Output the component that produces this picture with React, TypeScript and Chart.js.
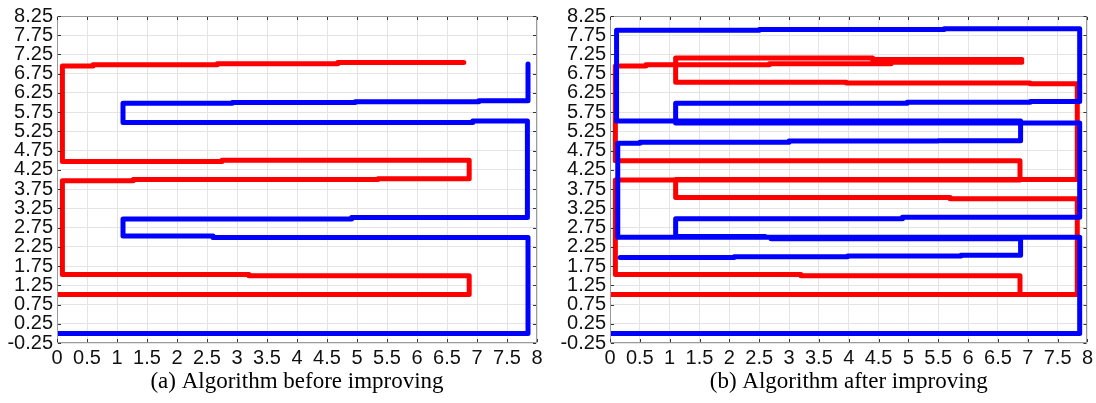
import React, { useEffect, useRef } from "react";
import { Chart, registerables } from "chart.js";

Chart.register(...registerables);

// ---------- tick labels & captions ----------
const xTickLabels = ["0", "0.5", "1", "1.5", "2", "2.5", "3", "3.5", "4", "4.5", "5", "5.5", "6", "6.5", "7", "7.5", "8"];
const yTickLabels = ["-0.25", "0.25", "0.75", "1.25", "1.75", "2.25", "2.75", "3.25", "3.75", "4.25", "4.75", "5.25", "5.75", "6.25", "6.75", "7.25", "7.75", "8.25"];
const captions = ["(a) Algorithm before improving", "(b) Algorithm after improving"];

// ---------- (a) before improving ----------
const aRedX = [0, 6.87, 6.87, 3.2, 3.2, 0.09, 0.09, 1.27, 1.27, 5.35, 5.35, 6.87, 6.87, 2.75, 2.75, 0.09, 0.09, 0.6, 0.6, 2.67, 2.67, 4.68, 4.68, 6.78];
const aRedY = [1.01, 1.01, 1.5, 1.5, 1.53, 1.53, 3.97, 3.97, 4.0, 4.0, 4.02, 4.02, 4.5, 4.5, 4.47, 4.47, 6.95, 6.95, 6.98, 6.98, 7.01, 7.01, 7.04, 7.04];

const aBlueX = [0, 7.85, 7.85, 2.6, 2.6, 1.1, 1.1, 4.91, 4.91, 7.84, 7.84, 6.93, 6.93, 1.1, 1.1, 2.92, 2.92, 4.97, 4.97, 7.03, 7.03, 7.85, 7.85];
const aBlueY = [0, 0, 2.49, 2.49, 2.53, 2.53, 2.97, 2.97, 3.01, 3.01, 5.52, 5.52, 5.48, 5.48, 5.98, 5.98, 6.0, 6.0, 6.02, 6.02, 6.05, 6.05, 7.0];

// ---------- (b) after improving (null = break) ----------
const bRedX = [0, 7.83, 7.83, 5.7, 5.7, 1.1, 1.1, 7.83, 7.83, 7.04, 7.04, 3.96, 3.96, 1.1, 1.1, 4.4, 4.4, 6.9, null,
  6.87, 6.87, 3.2, 3.2, 0.09, 0.09, 6.87, 6.87, 0.09, 0.09, 0.6, 0.6, 2.67, 2.67, 4.71, 4.71, 6.9];
const bRedY = [1.01, 1.01, 3.5, 3.5, 3.53, 3.53, 4.0, 4.0, 6.49, 6.49, 6.51, 6.51, 6.53, 6.53, 7.16, 7.16, 7.12, 7.12, null,
  1.01, 1.5, 1.5, 1.53, 1.53, 3.99, 3.99, 4.49, 4.49, 6.95, 6.95, 6.98, 6.98, 7.01, 7.01, 7.05, 7.05];

const bBlueX = [0, 7.87, 7.87, 2.6, 2.6, 1.1, 1.1, 4.9, 4.9, 7.87, 7.87, 1.1, 1.1, 4.98, 4.98, 7.04, 7.04, 7.87, 7.87, 5.6,
  5.6, 2.5, 2.5, 0.11, 0.11, 6.88, 6.88, 5.5, 5.5, 3.0, 3.0, 0.5, 0.5, 0.13, 0.13, 2.7, 2.7, 6.88, 6.88, 5.88,
  5.88, 3.98, 3.98, 2.08, 2.08, 0.17];
const bBlueY = [0, 0, 2.5, 2.5, 2.52, 2.52, 2.98, 2.98, 3.02, 3.02, 5.47, 5.47, 5.98, 5.98, 6.01, 6.01, 6.03, 6.03, 7.92, 7.92,
  7.9, 7.9, 7.88, 7.88, 5.52, 5.52, 5.01, 5.01, 5.0, 5.0, 4.97, 4.97, 4.94, 4.94, 2.5, 2.5, 2.46, 2.46, 2.03, 2.03,
  2.01, 2.01, 1.99, 1.99, 1.97, 1.97];

const RED = "#ff0000";
const BLUE = "#0000ff";

function toPoints(xs: (number | null)[], ys: (number | null)[]) {
  let lastX = 0;
  return xs.map((x, i) => {
    if (x === null || ys[i] === null) return { x: lastX, y: null };
    lastX = x as number;
    return { x: x as number, y: ys[i] as number };
  });
}

const framePlugin = {
  id: "frameTicks",
  afterDraw(chart: any, _args: any, opts: any) {
    const { ctx, chartArea: a, scales } = chart;
    ctx.save();
    ctx.strokeStyle = "#9a9a9a";
    ctx.lineWidth = 1;
    ctx.strokeRect(Math.round(a.left) + 0.5, Math.round(a.top) + 0.5, Math.round(a.right - a.left) - 1, Math.round(a.bottom - a.top) - 1);
    ctx.strokeStyle = "#333";
    ctx.beginPath();
    scales.x.ticks.forEach((t: any) => {
      const px = Math.round(scales.x.getPixelForValue(t.value)) + 0.5;
      ctx.moveTo(px, a.top + 1);
      ctx.lineTo(px, a.top + 4);
      ctx.moveTo(px, a.bottom - 1);
      ctx.lineTo(px, a.bottom - 4);
    });
    scales.y.ticks.forEach((t: any) => {
      const py = Math.round(scales.y.getPixelForValue(t.value)) + 0.5;
      ctx.moveTo(a.left + 1, py);
      ctx.lineTo(a.left + 4, py);
      ctx.moveTo(a.right - 1, py);
      ctx.lineTo(a.right - 4, py);
    });
    ctx.stroke();
    ctx.fillStyle = "#000";
    ctx.font = '23px "Liberation Serif", "Times New Roman", serif';
    ctx.textAlign = "center";
    ctx.textBaseline = "alphabetic";
    ctx.fillText(opts.text, (a.left + a.right) / 2, 388);
    ctx.restore();
  },
};

function makeConfig(red: any[], blue: any[], caption: string, yWidth: number, padRight: number): any {
  const tickFont = { family: '"Liberation Sans", Arial, sans-serif', size: 20 };
  const ds = (data: any[], color: string) => ({
    data,
    showLine: true,
    borderColor: color,
    backgroundColor: color,
    borderWidth: 5,
    pointRadius: 0,
    tension: 0,
    borderJoinStyle: "round",
    borderCapStyle: "round",
    spanGaps: false,
  });
  return {
    type: "scatter",
    data: { datasets: [ds(blue, BLUE), ds(red, RED)] },
    plugins: [framePlugin],
    options: {
      animation: false,
      responsive: false,
      devicePixelRatio: 1,
      layout: { padding: { left: 0, right: padRight, top: 16, bottom: 32 } },
      plugins: {
        legend: { display: false },
        tooltip: { enabled: false },
        frameTicks: { text: caption },
      },
      scales: {
        x: {
          type: "linear",
          min: 0,
          max: 8,
          ticks: {
            stepSize: 0.5,
            color: "#111",
            font: tickFont,
            padding: 3,
            maxRotation: 0,
            autoSkip: false,
            callback: (_v: any, i: number) => xTickLabels[i],
          },
          grid: { color: "#e4e4e4", drawTicks: false },
          border: { display: false },
          afterFit: (s: any) => { s.height = 28; },
        },
        y: {
          type: "linear",
          min: -0.25,
          max: 8.25,
          ticks: {
            stepSize: 0.5,
            color: "#111",
            font: tickFont,
            padding: 4,
            autoSkip: false,
            callback: (_v: any, i: number) => yTickLabels[i],
          },
          grid: { color: "#e4e4e4", drawTicks: false },
          border: { display: false },
          afterFit: (s: any) => { s.width = yWidth; },
        },
      },
    },
  };
}

export default function App() {
  const refA = useRef<HTMLCanvasElement>(null);
  const refB = useRef<HTMLCanvasElement>(null);

  useEffect(() => {
    const cA = new Chart(refA.current as HTMLCanvasElement, makeConfig(toPoints(aRedX, aRedY), toPoints(aBlueX, aBlueY), captions[0], 57, 11));
    const cB = new Chart(refB.current as HTMLCanvasElement, makeConfig(toPoints(bRedX, bRedY), toPoints(bBlueX, bBlueY), captions[1], 62, 6));
    return () => {
      cA.destroy();
      cB.destroy();
    };
  }, []);

  return (
    <div style={{ position: "fixed", left: 0, top: 0, width: 1096, height: 403, background: "#fff" }}>
      <canvas ref={refA} width={548} height={403} style={{ position: "absolute", left: 0, top: 0, width: 548, height: 403 }} />
      <canvas ref={refB} width={548} height={403} style={{ position: "absolute", left: 548, top: 0, width: 548, height: 403 }} />
    </div>
  );
}
